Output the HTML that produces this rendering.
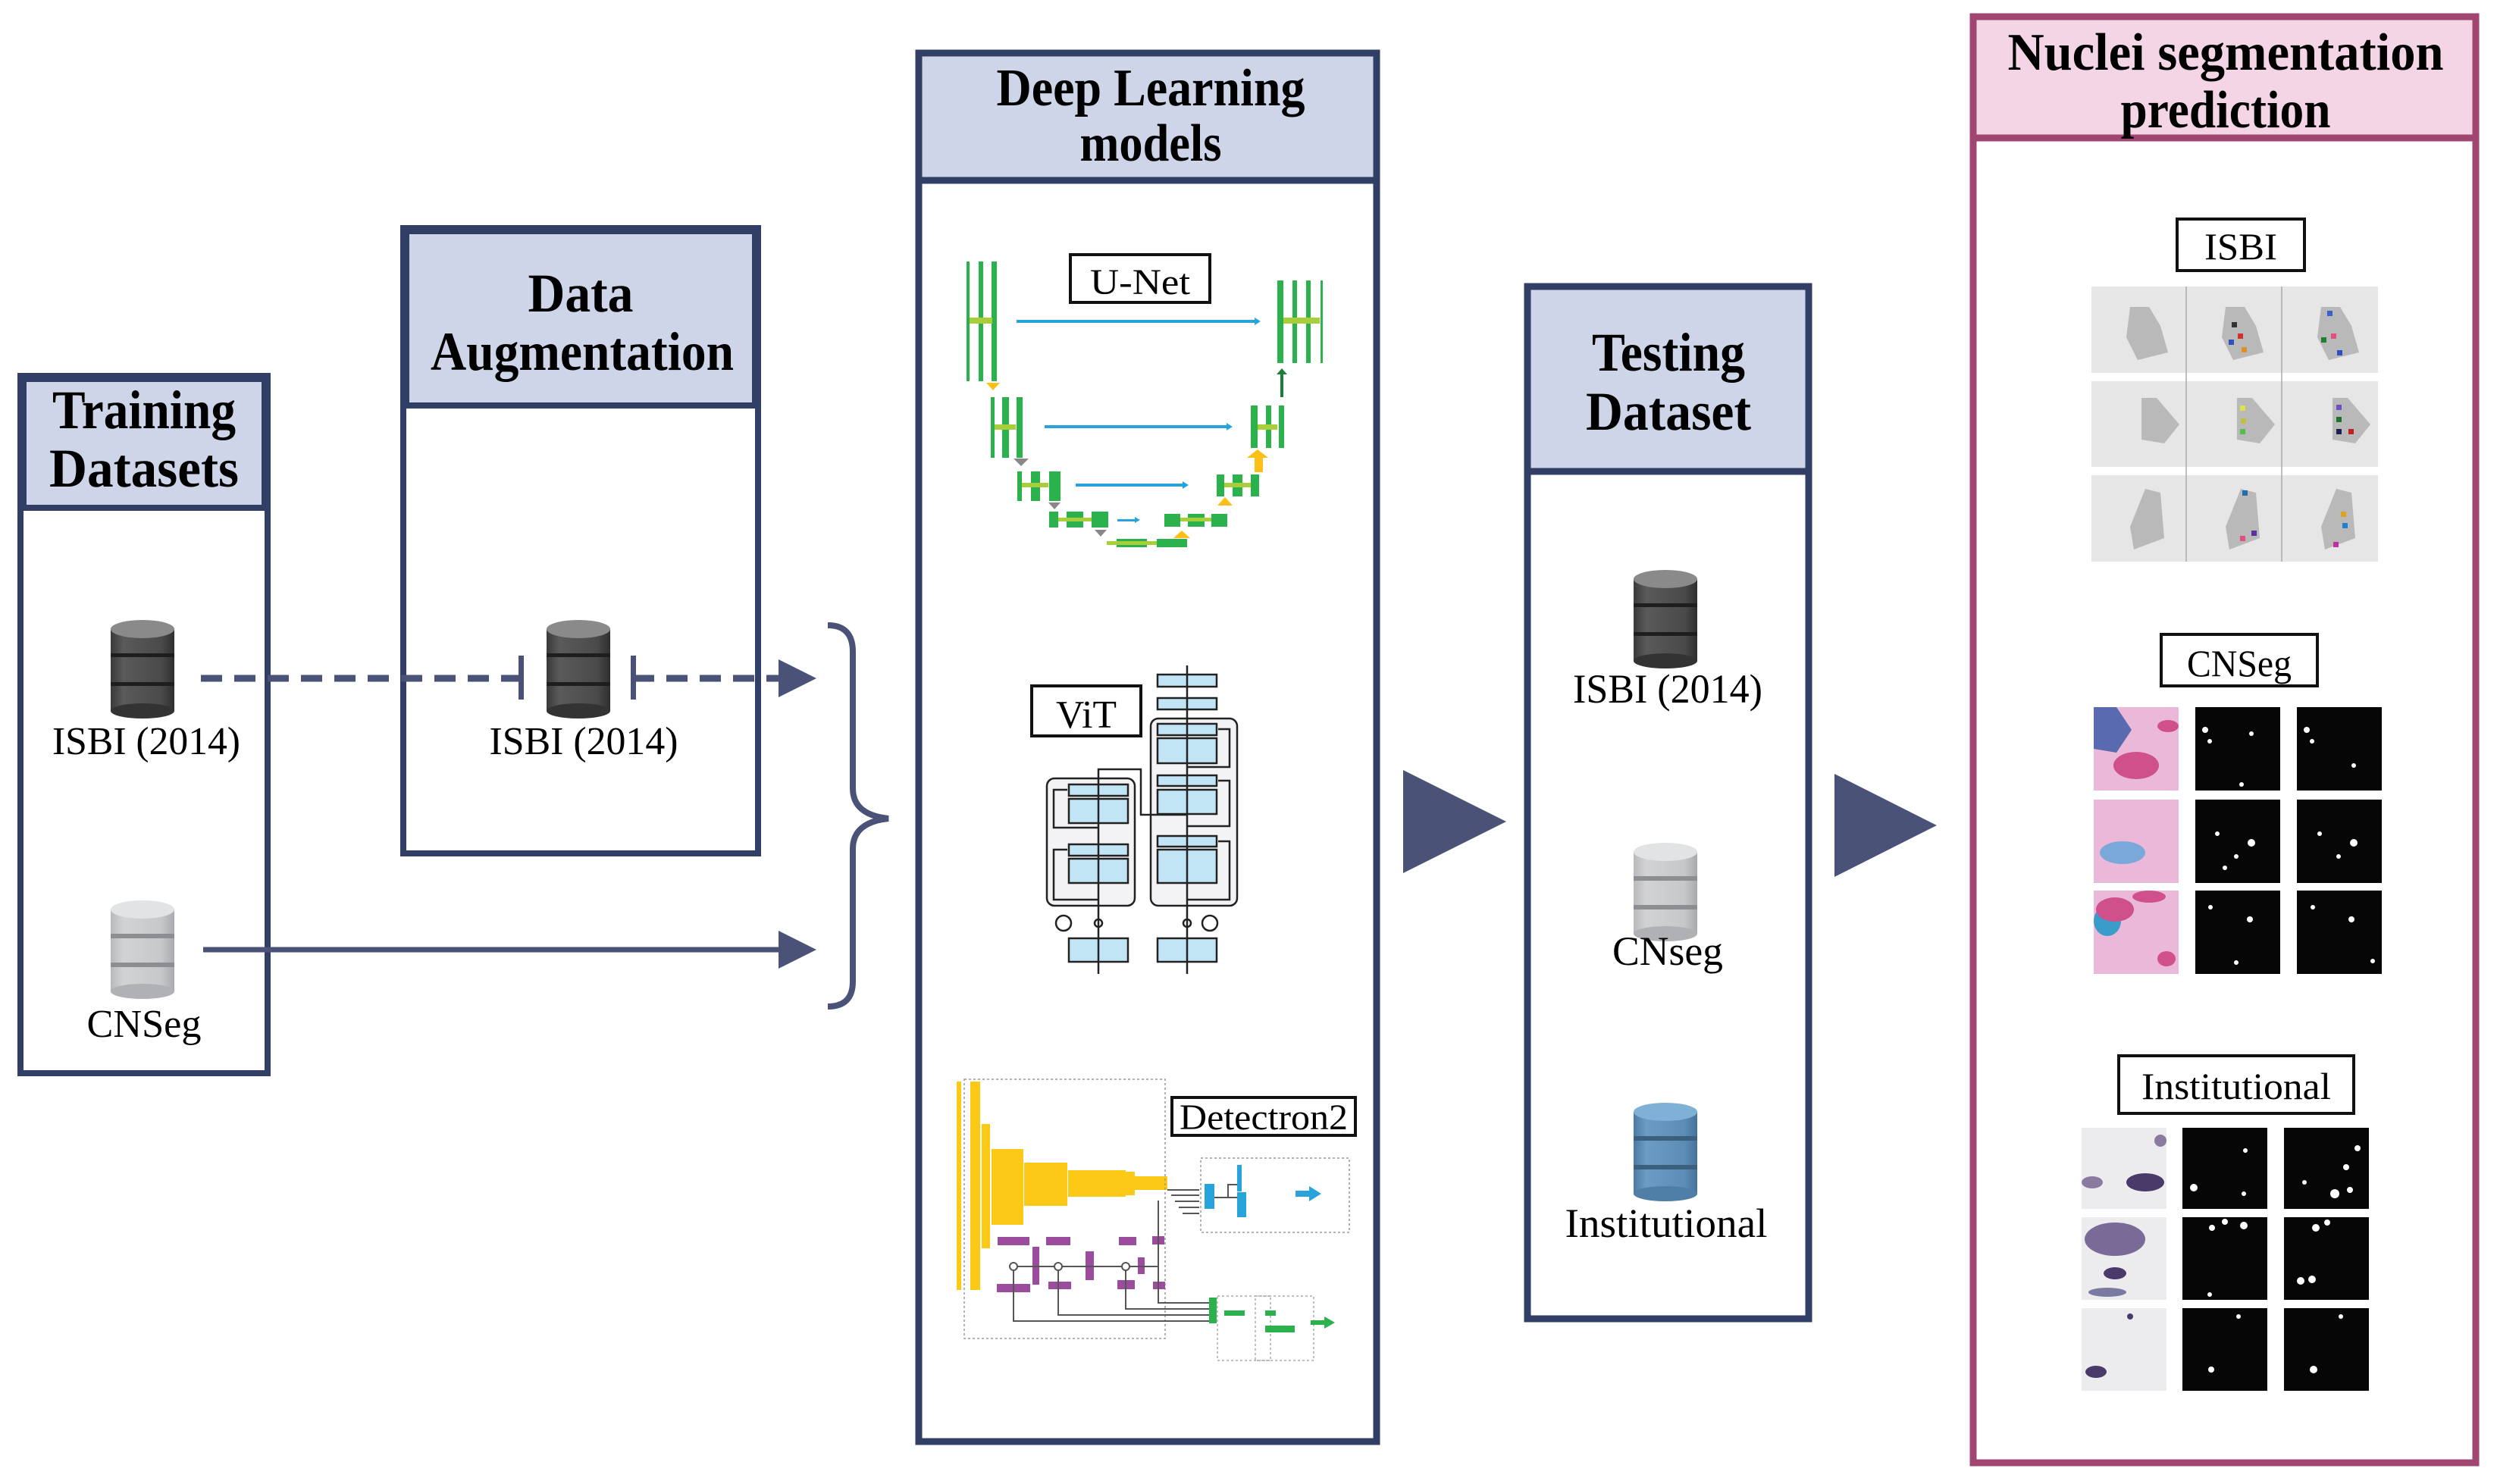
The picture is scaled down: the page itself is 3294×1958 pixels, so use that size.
<!DOCTYPE html>
<html><head><meta charset="utf-8"><style>html,body{margin:0;padding:0;background:#fff}svg{display:block}</style></head>
<body>
<svg width="3294" height="1958" viewBox="0 0 3294 1958" xmlns="http://www.w3.org/2000/svg" font-family="'Liberation Serif', serif">
<defs>
<linearGradient id="gd" x1="0" x2="1"><stop offset="0" stop-color="#3a3a3a"/><stop offset="0.2" stop-color="#5a5a5a"/><stop offset="0.8" stop-color="#4a4a4a"/><stop offset="1" stop-color="#2e2e2e"/></linearGradient>
<linearGradient id="gl" x1="0" x2="1"><stop offset="0" stop-color="#b8b9bc"/><stop offset="0.2" stop-color="#d2d3d5"/><stop offset="0.8" stop-color="#c6c7ca"/><stop offset="1" stop-color="#a9aaad"/></linearGradient>
<linearGradient id="gb" x1="0" x2="1"><stop offset="0" stop-color="#4a7aa2"/><stop offset="0.2" stop-color="#6b9cc4"/><stop offset="0.8" stop-color="#5c8db6"/><stop offset="1" stop-color="#44729a"/></linearGradient>
<g id="dbd"><rect x="0" y="12" width="84" height="108" fill="url(#gd)"/><ellipse cx="42" cy="120" rx="42" ry="10" fill="#333"/><rect x="0" y="44" width="84" height="5" fill="#1e1e1e"/><rect x="0" y="82" width="84" height="5" fill="#1e1e1e"/><ellipse cx="42" cy="12" rx="42" ry="12" fill="#8a8a8a"/></g>
<g id="dbl"><rect x="0" y="12" width="84" height="108" fill="url(#gl)"/><ellipse cx="42" cy="120" rx="42" ry="10" fill="#b0b1b4"/><rect x="0" y="44" width="84" height="6" fill="#8d8e91"/><rect x="0" y="82" width="84" height="6" fill="#8d8e91"/><ellipse cx="42" cy="12" rx="42" ry="12" fill="#e2e3e5"/></g>
<g id="dbb"><rect x="0" y="12" width="84" height="108" fill="url(#gb)"/><ellipse cx="42" cy="120" rx="42" ry="10" fill="#4f7fa7"/><rect x="0" y="44" width="84" height="6" fill="#3d5f7e"/><rect x="0" y="82" width="84" height="6" fill="#3d5f7e"/><ellipse cx="42" cy="12" rx="42" ry="12" fill="#7fb0d5"/></g>
</defs>

<!-- Training Datasets -->
<rect x="27" y="496" width="326" height="920" fill="none" stroke="#313e66" stroke-width="8"/>
<rect x="31" y="500" width="318" height="170" fill="#cfd5e8" stroke="#313e66" stroke-width="8"/>
<g font-weight="bold" font-size="72" fill="#000">
<text x="190" y="565" text-anchor="middle" textLength="242" lengthAdjust="spacingAndGlyphs">Training</text>
<text x="190" y="642" text-anchor="middle" textLength="250" lengthAdjust="spacingAndGlyphs">Datasets</text>
</g>
<use href="#dbd" x="146" y="818"/>
<text x="193" y="995" text-anchor="middle" font-size="52" textLength="248" lengthAdjust="spacingAndGlyphs">ISBI (2014)</text>
<use href="#dbl" x="146" y="1188"/>
<text x="190" y="1368" text-anchor="middle" font-size="52" textLength="151" lengthAdjust="spacingAndGlyphs">CNSeg</text>

<!-- Data Augmentation -->
<rect x="532" y="301" width="468" height="825" fill="none" stroke="#313e66" stroke-width="8"/>
<rect x="536" y="305" width="460" height="230" fill="#cfd5e8" stroke="#313e66" stroke-width="8"/>
<g font-weight="bold" font-size="72" fill="#000">
<text x="766" y="411" text-anchor="middle" textLength="139" lengthAdjust="spacingAndGlyphs">Data</text>
<text x="768" y="488" text-anchor="middle" textLength="400" lengthAdjust="spacingAndGlyphs">Augmentation</text>
</g>
<use href="#dbd" x="721" y="818"/>
<text x="770" y="995" text-anchor="middle" font-size="52" textLength="249" lengthAdjust="spacingAndGlyphs">ISBI (2014)</text>

<!-- connectors -->
<line x1="265" y1="895" x2="687" y2="895" stroke="#4a5278" stroke-width="9" stroke-dasharray="28,16"/>
<line x1="835" y1="895" x2="1040" y2="895" stroke="#4a5278" stroke-width="9" stroke-dasharray="28,16"/>
<rect x="684" y="865" width="7" height="58" fill="#4a5278"/>
<rect x="832" y="865" width="7" height="58" fill="#4a5278"/>
<polygon points="1027,870 1077,895 1027,920" fill="#4a5278"/>
<line x1="268" y1="1253" x2="1035" y2="1253" stroke="#4a5278" stroke-width="7"/>
<polygon points="1027,1228 1077,1253 1027,1278" fill="#4a5278"/>
<path d="M1092,825 Q1125,825 1125,860 L1125,1040 Q1125,1075 1172,1080 Q1125,1085 1125,1120 L1125,1295 Q1125,1328 1092,1328" fill="none" stroke="#4a5278" stroke-width="8"/>

<!-- Deep Learning models -->
<rect x="1212" y="70" width="604" height="1832" fill="none" stroke="#313e66" stroke-width="9"/>
<rect x="1212" y="70" width="604" height="168" fill="#cfd5e8" stroke="#313e66" stroke-width="9"/>
<g font-weight="bold" font-size="70" fill="#000">
<text x="1518" y="139" text-anchor="middle" textLength="407" lengthAdjust="spacingAndGlyphs">Deep Learning</text>
<text x="1518" y="212" text-anchor="middle" textLength="187" lengthAdjust="spacingAndGlyphs">models</text>
</g>

<!-- U-Net -->
<rect x="1412" y="336" width="184" height="63" fill="#fff" stroke="#111" stroke-width="4"/>
<text x="1504" y="388" text-anchor="middle" font-size="48" textLength="132" lengthAdjust="spacingAndGlyphs">U-Net</text>
<g fill="#2bb24c">
<rect x="1275" y="345" width="4" height="158"/><rect x="1291" y="345" width="6" height="158"/><rect x="1308" y="345" width="7" height="158"/>
<rect x="1685" y="370" width="8" height="109"/><rect x="1705" y="370" width="6" height="109"/><rect x="1723" y="370" width="6" height="109"/><rect x="1742" y="370" width="3" height="109"/>
<rect x="1307" y="524" width="5" height="80"/><rect x="1322" y="524" width="9" height="80"/><rect x="1341" y="524" width="8" height="80"/>
<rect x="1650" y="535" width="9" height="56"/><rect x="1670" y="535" width="7" height="56"/><rect x="1687" y="535" width="7" height="56"/>
<rect x="1342" y="622" width="6" height="39"/><rect x="1360" y="622" width="12" height="39"/><rect x="1384" y="622" width="15" height="39"/>
<rect x="1605" y="626" width="10" height="29"/><rect x="1626" y="626" width="13" height="29"/><rect x="1650" y="626" width="11" height="29"/>
<rect x="1384" y="675" width="12" height="21"/><rect x="1407" y="675" width="22" height="21"/><rect x="1440" y="675" width="22" height="21"/>
<rect x="1536" y="678" width="21" height="17"/><rect x="1567" y="678" width="22" height="17"/><rect x="1598" y="678" width="21" height="17"/>
<rect x="1473" y="711" width="40" height="11"/><rect x="1526" y="711" width="40" height="11"/>
</g>
<g fill="#a8cf3a">
<rect x="1279" y="419" width="28" height="8"/><rect x="1297" y="419" width="12" height="8"/><rect x="1693" y="419" width="48" height="8"/>
<rect x="1312" y="560" width="28" height="7"/><rect x="1659" y="560" width="26" height="7"/>
<rect x="1348" y="637" width="35" height="6"/><rect x="1615" y="637" width="35" height="6"/>
<rect x="1396" y="683" width="44" height="5"/><rect x="1557" y="683" width="41" height="5"/>
<rect x="1460" y="714" width="66" height="5"/>
</g>
<g fill="#29a3dc">
<rect x="1341" y="422" width="318" height="4"/><polygon points="1655,419 1663,424 1655,429"/>
<rect x="1378" y="561" width="243" height="4"/><polygon points="1618,558 1626,563 1618,568"/>
<rect x="1419" y="638" width="144" height="4"/><polygon points="1560,635 1568,640 1560,645"/>
<rect x="1474" y="685" width="25" height="3"/><polygon points="1497,682 1504,686 1497,690"/>
</g>
<g fill="#fbbf16"><polygon points="1301,505 1319,505 1310,515"/><polygon points="1652,604 1666,604 1666,623 1655,623 1655,604" /><polygon points="1645,604 1659,593 1673,604"/><polygon points="1606,667 1616,656 1626,667"/><polygon points="1548,710 1559,700 1570,710"/></g>
<g fill="#888"><polygon points="1337,605 1357,605 1347,615"/><polygon points="1383,663 1399,663 1391,672"/><polygon points="1444,699 1460,699 1452,708"/></g>
<rect x="1689" y="490" width="4" height="34" fill="#1b7f3a"/><polygon points="1684,494 1691,486 1698,494" fill="#1b7f3a"/>

<!-- ViT -->
<rect x="1361" y="905" width="144" height="66" fill="#fff" stroke="#111" stroke-width="4"/>
<text x="1433" y="960" text-anchor="middle" font-size="52" textLength="80" lengthAdjust="spacingAndGlyphs">ViT</text>
<g stroke="#222" stroke-width="2.5">
<rect x="1381" y="1027" width="116" height="168" rx="10" fill="#f3f3f5"/>
<rect x="1518" y="948" width="114" height="247" rx="10" fill="#f3f3f5"/>
<g fill="#c2e5f6">
<rect x="1410" y="1035" width="78" height="15"/><rect x="1410" y="1054" width="78" height="32"/>
<rect x="1410" y="1114" width="78" height="15"/><rect x="1410" y="1133" width="78" height="32"/>
<rect x="1410" y="1238" width="78" height="31"/>
<rect x="1527" y="890" width="78" height="16"/><rect x="1527" y="921" width="78" height="15"/>
<rect x="1527" y="955" width="78" height="15"/><rect x="1527" y="974" width="78" height="33"/>
<rect x="1527" y="1023" width="78" height="14"/><rect x="1527" y="1042" width="78" height="32"/>
<rect x="1527" y="1103" width="78" height="14"/><rect x="1527" y="1121" width="78" height="44"/>
<rect x="1527" y="1238" width="78" height="31"/>
</g>
<g fill="none">
<line x1="1449" y1="1035" x2="1449" y2="1285"/><line x1="1566" y1="878" x2="1566" y2="1285"/>
<path d="M1449,1035 L1449,1015 L1505,1015 L1505,1075 L1566,1075"/>
<path d="M1408,1042 L1390,1042 L1390,1092 L1449,1092"/>
<path d="M1408,1121 L1390,1121 L1390,1187 L1449,1187"/>
<path d="M1607,962 L1622,962 L1622,1012 L1566,1012"/>
<path d="M1607,1030 L1622,1030 L1622,1090 L1566,1090"/>
<path d="M1607,1110 L1622,1110 L1622,1187 L1566,1187"/>
<circle cx="1403" cy="1218" r="10"/><circle cx="1449" cy="1218" r="5"/>
<circle cx="1566" cy="1218" r="5"/><circle cx="1596" cy="1218" r="10"/>
</g>
</g>

<!-- Detectron2 -->
<g fill="#fcc917">
<rect x="1262" y="1427" width="6" height="275"/><rect x="1280" y="1427" width="13" height="275"/>
<rect x="1295" y="1483" width="11" height="164"/><rect x="1308" y="1516" width="42" height="100"/>
<rect x="1351" y="1534" width="57" height="57"/><rect x="1409" y="1544" width="76" height="35"/>
<rect x="1485" y="1546" width="12" height="31"/><rect x="1497" y="1552" width="43" height="18"/>
</g>
<rect x="1272" y="1424" width="265" height="342" fill="none" stroke="#999" stroke-width="1.5" stroke-dasharray="3,3"/>
<rect x="1584" y="1528" width="196" height="98" fill="none" stroke="#999" stroke-width="1.5" stroke-dasharray="3,3"/>
<rect x="1606" y="1710" width="70" height="85" fill="none" stroke="#aaa" stroke-width="1.5" stroke-dasharray="3,3"/>
<rect x="1656" y="1710" width="77" height="85" fill="none" stroke="#aaa" stroke-width="1.5" stroke-dasharray="3,3"/>
<g fill="#9c4c9c">
<rect x="1316" y="1632" width="42" height="11"/><rect x="1380" y="1632" width="32" height="11"/><rect x="1476" y="1632" width="23" height="11"/><rect x="1520" y="1631" width="16" height="11"/>
<rect x="1362" y="1645" width="9" height="50"/><rect x="1432" y="1651" width="11" height="38"/><rect x="1501" y="1659" width="9" height="22"/>
<rect x="1315" y="1694" width="44" height="11"/><rect x="1383" y="1691" width="30" height="10"/><rect x="1474" y="1689" width="23" height="12"/><rect x="1521" y="1691" width="16" height="10"/>
</g>
<g stroke="#555" stroke-width="2" fill="none">
<line x1="1336" y1="1671" x2="1528" y2="1671"/>
<circle cx="1337" cy="1671" r="5" fill="#fff"/><circle cx="1396" cy="1671" r="5" fill="#fff"/><circle cx="1485" cy="1671" r="5" fill="#fff"/>
<path d="M1337,1676 L1337,1743 L1595,1743"/><path d="M1396,1676 L1396,1735 L1595,1735"/><path d="M1485,1676 L1485,1727 L1595,1727"/>
<path d="M1528,1584 L1528,1719 L1595,1719"/>
<path d="M1540,1570 L1582,1570 M1545,1577 L1582,1577 M1550,1585 L1582,1585 M1555,1593 L1582,1593 M1560,1601 L1582,1601"/>
<path d="M1602,1580 L1620,1580 L1620,1563 L1632,1563 M1620,1580 L1632,1580"/>
</g>
<g fill="#29a3dc"><rect x="1589" y="1562" width="13" height="33"/><rect x="1632" y="1537" width="6" height="35"/><rect x="1632" y="1573" width="12" height="33"/><rect x="1709" y="1571" width="20" height="8"/><polygon points="1727,1565 1743,1575 1727,1585"/></g>
<g fill="#2bb24c"><rect x="1595" y="1712" width="10" height="34"/><rect x="1615" y="1729" width="27" height="7"/><rect x="1669" y="1729" width="14" height="7"/><rect x="1669" y="1749" width="39" height="9"/><rect x="1729" y="1742" width="20" height="6"/><polygon points="1747,1737 1761,1745 1747,1753"/></g>
<rect x="1546" y="1448" width="242" height="50" fill="#fff" stroke="#111" stroke-width="4"/>
<text x="1667" y="1490" text-anchor="middle" font-size="48" textLength="222" lengthAdjust="spacingAndGlyphs">Detectron2</text>

<!-- big arrows -->
<polygon points="1851,1016 1987,1084 1851,1152" fill="#4a5278"/>
<polygon points="2420,1021 2555,1089 2420,1157" fill="#4a5278"/>

<!-- Testing Dataset -->
<rect x="2015" y="378" width="371" height="1362" fill="none" stroke="#313e66" stroke-width="9"/>
<rect x="2015" y="378" width="371" height="244" fill="#cfd5e8" stroke="#313e66" stroke-width="9"/>
<g font-weight="bold" font-size="72" fill="#000">
<text x="2201" y="489" text-anchor="middle" textLength="202" lengthAdjust="spacingAndGlyphs">Testing</text>
<text x="2201" y="567" text-anchor="middle" textLength="218" lengthAdjust="spacingAndGlyphs">Dataset</text>
</g>
<use href="#dbd" x="2155" y="752"/>
<text x="2200" y="927" text-anchor="middle" font-size="54" textLength="250" lengthAdjust="spacingAndGlyphs">ISBI (2014)</text>
<use href="#dbl" x="2155" y="1112"/>
<text x="2200" y="1273" text-anchor="middle" font-size="54" textLength="146" lengthAdjust="spacingAndGlyphs">CNseg</text>
<use href="#dbb" x="2155" y="1455"/>
<text x="2198" y="1632" text-anchor="middle" font-size="54" textLength="267" lengthAdjust="spacingAndGlyphs">Institutional</text>

<!-- Nuclei segmentation prediction -->
<rect x="2603" y="22" width="663" height="1908" fill="none" stroke="#a04670" stroke-width="9"/>
<rect x="2603" y="22" width="663" height="160" fill="#f3d5e5" stroke="#a04670" stroke-width="9"/>
<g font-weight="bold" font-size="70" fill="#000">
<text x="2936" y="92" text-anchor="middle" textLength="575" lengthAdjust="spacingAndGlyphs">Nuclei segmentation</text>
<text x="2936" y="168" text-anchor="middle" textLength="277" lengthAdjust="spacingAndGlyphs">prediction</text>
</g>

<rect x="2872" y="289" width="168" height="68" fill="#fff" stroke="#111" stroke-width="4"/>
<text x="2956" y="342" text-anchor="middle" font-size="50" textLength="96" lengthAdjust="spacingAndGlyphs">ISBI</text>
<g fill="#e6e6e6">
<rect x="2759" y="378" width="378" height="114"/><rect x="2759" y="503" width="378" height="113"/><rect x="2759" y="627" width="378" height="114"/>
</g>
<g stroke="#aaa" stroke-width="1.5"><line x1="2884" y1="378" x2="2884" y2="741"/><line x1="3010" y1="378" x2="3010" y2="741"/></g>
<g fill="#b9b9b9">
<path d="M2810,405 l25,0 l15,25 l10,35 l-40,10 l-15,-30z"/><path d="M2936,405 l25,0 l15,25 l10,35 l-40,10 l-15,-30z"/><path d="M3062,405 l25,0 l15,25 l10,35 l-40,10 l-15,-30z"/>
<path d="M2825,525 l20,0 l30,35 l-20,25 l-30,-5z"/><path d="M2951,525 l20,0 l30,35 l-20,25 l-30,-5z"/><path d="M3077,525 l20,0 l30,35 l-20,25 l-30,-5z"/>
<path d="M2830,645 l20,5 l5,60 l-40,15 l-5,-30z"/><path d="M2956,645 l20,5 l5,60 l-40,15 l-5,-30z"/><path d="M3082,645 l20,5 l5,60 l-40,15 l-5,-30z"/>
</g>
<g>
<rect x="2944" y="425" width="7" height="7" fill="#333"/><rect x="2952" y="440" width="7" height="7" fill="#d03030"/><rect x="2940" y="448" width="7" height="7" fill="#3050c0"/><rect x="2957" y="458" width="7" height="7" fill="#e09020"/>
<rect x="3070" y="410" width="7" height="7" fill="#3a60d0"/><rect x="3075" y="440" width="7" height="7" fill="#e05080"/><rect x="3062" y="445" width="7" height="7" fill="#208030"/><rect x="3083" y="462" width="7" height="7" fill="#3050c0"/>
<rect x="2955" y="535" width="7" height="7" fill="#e0e050"/><rect x="2956" y="552" width="7" height="7" fill="#c0c040"/><rect x="2955" y="566" width="7" height="7" fill="#50c050"/>
<rect x="3082" y="534" width="7" height="7" fill="#7050c0"/><rect x="3082" y="550" width="7" height="7" fill="#207030"/><rect x="3082" y="566" width="7" height="7" fill="#202050"/><rect x="3098" y="566" width="7" height="7" fill="#c02020"/>
<rect x="2958" y="647" width="7" height="7" fill="#2070b0"/><rect x="2955" y="707" width="7" height="7" fill="#e05080"/><rect x="2970" y="700" width="7" height="7" fill="#6030a0"/>
<rect x="3078" y="715" width="7" height="7" fill="#c030a0"/><rect x="3088" y="675" width="7" height="7" fill="#e0a020"/><rect x="3090" y="690" width="7" height="7" fill="#2080d0"/>
</g>

<rect x="2851" y="837" width="206" height="68" fill="#fff" stroke="#111" stroke-width="4"/>
<text x="2954" y="892" text-anchor="middle" font-size="50" textLength="138" lengthAdjust="spacingAndGlyphs">CNSeg</text>
<g fill="#eab8d8"><rect x="2762" y="933" width="112" height="110"/><rect x="2762" y="1055" width="112" height="110"/><rect x="2762" y="1175" width="112" height="110"/></g>
<g fill="#5a6ab0"><path d="M2762,933 h30 l20,30 l-20,30 l-30,-5z"/><ellipse cx="2800" cy="1125" rx="30" ry="15" fill="#7aa8d8"/><ellipse cx="2780" cy="1215" rx="18" ry="20" fill="#3a9cc8"/></g>
<g fill="#d0508c"><ellipse cx="2818" cy="1010" rx="30" ry="18"/><ellipse cx="2860" cy="958" rx="14" ry="8"/><ellipse cx="2790" cy="1200" rx="25" ry="16"/><ellipse cx="2835" cy="1183" rx="22" ry="8"/><ellipse cx="2858" cy="1265" rx="12" ry="10"/></g>
<g fill="#060606">
<rect x="2896" y="933" width="112" height="110"/><rect x="3030" y="933" width="112" height="110"/>
<rect x="2896" y="1055" width="112" height="110"/><rect x="3030" y="1055" width="112" height="110"/>
<rect x="2896" y="1175" width="112" height="110"/><rect x="3030" y="1175" width="112" height="110"/>
</g>
<g fill="#fff">
<circle cx="2909" cy="963" r="4"/><circle cx="2915" cy="978" r="3"/><circle cx="2970" cy="968" r="3"/><circle cx="2957" cy="1035" r="3"/>
<circle cx="3043" cy="963" r="4"/><circle cx="3050" cy="978" r="3"/><circle cx="3105" cy="1010" r="3"/>
<circle cx="2925" cy="1100" r="3"/><circle cx="2950" cy="1130" r="3"/><circle cx="2970" cy="1112" r="5"/><circle cx="2935" cy="1145" r="3"/>
<circle cx="3060" cy="1100" r="3"/><circle cx="3085" cy="1130" r="3"/><circle cx="3105" cy="1112" r="5"/>
<circle cx="2916" cy="1197" r="3"/><circle cx="2968" cy="1213" r="4"/><circle cx="2950" cy="1270" r="3"/>
<circle cx="3051" cy="1197" r="3"/><circle cx="3102" cy="1213" r="4"/><circle cx="3130" cy="1268" r="3"/>
</g>

<rect x="2795" y="1393" width="310" height="76" fill="#fff" stroke="#111" stroke-width="4"/>
<text x="2950" y="1450" text-anchor="middle" font-size="50" textLength="250" lengthAdjust="spacingAndGlyphs">Institutional</text>
<g fill="#ececee"><rect x="2746" y="1488" width="112" height="107"/><rect x="2746" y="1606" width="112" height="109"/><rect x="2746" y="1726" width="112" height="109"/></g>
<g fill="#4a3a6a">
<ellipse cx="2830" cy="1560" rx="25" ry="12"/><ellipse cx="2760" cy="1560" rx="14" ry="8" fill="#8a7aa0"/><ellipse cx="2850" cy="1505" rx="8" ry="8" fill="#8a7aa0"/>
<ellipse cx="2790" cy="1635" rx="40" ry="22" fill="#7a6a98"/><ellipse cx="2790" cy="1680" rx="15" ry="8"/><ellipse cx="2780" cy="1705" rx="25" ry="6" fill="#7a7aa0"/>
<ellipse cx="2765" cy="1810" rx="14" ry="8"/><circle cx="2810" cy="1737" r="4"/>
</g>
<g fill="#060606">
<rect x="2879" y="1488" width="112" height="107"/><rect x="3013" y="1488" width="112" height="107"/>
<rect x="2879" y="1606" width="112" height="109"/><rect x="3013" y="1606" width="112" height="109"/>
<rect x="2879" y="1726" width="112" height="109"/><rect x="3013" y="1726" width="112" height="109"/>
</g>
<g fill="#fff">
<circle cx="2894" cy="1567" r="5"/><circle cx="2962" cy="1518" r="3"/><circle cx="2960" cy="1575" r="3"/>
<circle cx="3095" cy="1540" r="4"/><circle cx="3080" cy="1575" r="6"/><circle cx="3100" cy="1570" r="4"/><circle cx="3040" cy="1560" r="3"/><circle cx="3110" cy="1515" r="4"/>
<circle cx="2918" cy="1620" r="4"/><circle cx="2935" cy="1612" r="4"/><circle cx="2960" cy="1617" r="5"/><circle cx="2915" cy="1708" r="3"/>
<circle cx="3055" cy="1620" r="5"/><circle cx="3070" cy="1613" r="4"/><circle cx="3035" cy="1690" r="5"/><circle cx="3050" cy="1688" r="5"/>
<circle cx="2917" cy="1807" r="4"/><circle cx="2953" cy="1737" r="3"/><circle cx="3052" cy="1807" r="5"/><circle cx="3088" cy="1737" r="3"/>
</g>
</svg>
</body></html>
